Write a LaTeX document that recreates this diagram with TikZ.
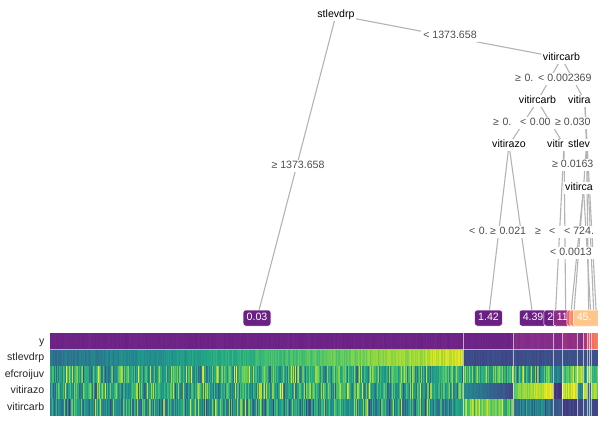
\documentclass[tikz,border=0pt]{standalone}
\usepackage{fontspec}
\setmainfont{Liberation Sans}
\usetikzlibrary{backgrounds}
\newcommand\labfont{\fontsize{10.6}{12}\selectfont}
\definecolor{vir0}{HTML}{440154}
\definecolor{vir1}{HTML}{482475}
\definecolor{vir2}{HTML}{414487}
\definecolor{vir3}{HTML}{355F8D}
\definecolor{vir4}{HTML}{2A788E}
\definecolor{vir5}{HTML}{21918C}
\definecolor{vir6}{HTML}{22A884}
\definecolor{vir7}{HTML}{44BF70}
\definecolor{vir8}{HTML}{7AD151}
\definecolor{vir9}{HTML}{BDDF26}
\definecolor{vir10}{HTML}{FDE725}
\definecolor{ya1}{HTML}{6B2184}
\definecolor{ya2}{HTML}{712689}
\definecolor{yb1}{HTML}{7E2986}
\definecolor{yb2}{HTML}{8A318C}
\definecolor{yc1}{HTML}{8C2C84}
\definecolor{yc2}{HTML}{A0337F}
\definecolor{yd1}{HTML}{A0327F}
\definecolor{yd2}{HTML}{B8397A}
\definecolor{ye1}{HTML}{D24A72}
\definecolor{ye2}{HTML}{E4566A}
\definecolor{yf1}{HTML}{F0625E}
\definecolor{yf2}{HTML}{F8805F}
\definecolor{lpur}{HTML}{6B2184}
\definecolor{lmag}{HTML}{8F2C83}
\definecolor{lred}{HTML}{EF5E5E}
\definecolor{lora}{HTML}{FA8A62}
\definecolor{lpea}{HTML}{FEC68A}
\definecolor{lgray}{HTML}{B3B3B3}
\definecolor{tgray}{HTML}{4D4D4D}
\newcommand\zzcell[3]{%
  \pgfmathsetmacro\zzf{max(0,min(10,#3))}%
  \pgfmathtruncatemacro\zzk{min(9,floor(\zzf))}%
  \pgfmathtruncatemacro\zzp{round(100*(\zzf-\zzk))}%
  \pgfmathtruncatemacro\zzkk{\zzk+1}%
  \fill[vir\zzkk!\zzp!vir\zzk] (#1,#2) rectangle ++(1.15,16.62);}
\newcommand\zzseg[8]{%
  \foreach \zzx in {#1,...,#2}{%
    \pgfmathsetmacro\zzt{(\zzx-#1)/max(1,#2-#1)}%
    \pgfmathtruncatemacro\zzq{round(100*rnd)}%
    \fill[#3!\zzq!#4] (\zzx,333) rectangle ++(1.15,16.62);
    \zzcell{\zzx}{349.62}{#5}%
    \zzcell{\zzx}{366.24}{#6}%
    \zzcell{\zzx}{382.86}{#7}%
    \zzcell{\zzx}{399.48}{#8}%
  }}
\begin{document}
\begin{tikzpicture}[x=1pt,y=-1pt,
  edge/.style={draw=lgray, line width=1.1pt},
  inode/.style={fill=white, text=black, inner xsep=1.5pt, inner ysep=1pt, font=\labfont, text height=7.6pt, text depth=2.2pt},
  elab/.style={fill=white, text=tgray, inner xsep=2pt, inner ysep=1pt, font=\labfont, text height=7.6pt, text depth=2.2pt},
  cutlab/.style={elab, anchor=west, align=left, text width=#1},
  cutnode/.style={inode, anchor=west, align=left, text width=#1},
  leafbox/.style={rounded corners=2.5pt, draw=white, line width=0.5pt, text=white, inner xsep=3.5pt, inner ysep=0pt, minimum height=16pt, font=\labfont, text height=7.6pt, text depth=2.2pt},
  cutleaf/.style={leafbox, anchor=west, align=left, text width=#1},
  rowlab/.style={anchor=east, text=black!85, font=\labfont, inner sep=0pt, text height=7.6pt, text depth=2.2pt}]
\useasboundingbox (0,0) rectangle (598,426);
\pgfmathsetseed{11}
% heatmap
\zzseg{50}{462}{ya1}{ya2}{3.7+5.6*\zzt+1.2*(rnd-0.5)}{6.2+4*(rnd+rnd-1)}{6.1+4*(rnd+rnd-1)}{5.5+4.2*(rnd+rnd-1)}
\zzseg{463}{512}{ya1}{ya2}{2.3+0.8*(rnd-0.5)}{6.3+4*(rnd+rnd-1)}{4.7-2.5*\zzt+0.6*(rnd-0.5)}{7.6+2.6*(rnd+rnd-1)}
\zzseg{513}{552}{yb1}{yb2}{2.4+0.8*(rnd-0.5)}{6+4*(rnd+rnd-1)}{7.6+2.2*\zzt+1.2*(rnd-0.5)}{4.2+2.6*(rnd+rnd-1)}
\zzseg{553}{561}{yb1}{yb2}{2.5+0.4*(rnd-0.5)}{4.2+2*(rnd+rnd-1)}{1.6+0.8*(rnd-0.5)}{2.8+0.8*(rnd-0.5)}
\zzseg{562}{576}{yc1}{yc2}{2.5+0.6*(rnd-0.5)}{7.5+2.5*(rnd+rnd-1)}{9+1.6*(rnd+rnd-1)}{2+1.2*(rnd-0.5)}
\zzseg{577}{582}{yb1}{yb2}{2.4+0.4*(rnd-0.5)}{8.5+1.5*(rnd-0.5)}{5+2*(rnd-0.5)}{2.2+0.4*(rnd-0.5)}
\zzseg{583}{586}{yd1}{yd2}{2.5}{5+3*(rnd-0.5)}{9}{2.5}
\zzseg{587}{590}{ye1}{ye2}{2.3}{8}{3}{3}
\zzseg{591}{597}{yf1}{yf2}{2.5}{6+4*(rnd-0.5)}{8+3*(rnd-0.5)}{2}
\foreach \sx in {463,513,553,562,577,583,587,589,591}
  \draw[white, opacity=0.6, line width=0.7pt] (\sx,333) -- (\sx,416.1);
\draw[white, opacity=0.6, line width=0.7pt] (50,349.62) -- (598,349.62);
% row labels
\node[rowlab] (ry) at (44.5,341.3) {y};
\node[rowlab] (rs) at (44.5,357.9) {stlevdrp};
\node[rowlab] (re) at (44.5,374.5) {efcroijuv};
\node[rowlab] (rr) at (44.5,391.2) {vitirazo};
\node[rowlab] (rc) at (44.5,407.8) {vitircarb};
% tree nodes and edge labels
\node[inode] (n1) at (336,15) {stlevdrp};
\node[elab] at (298,166) {≥ 1373.658};
\node[elab] at (450,36) {< 1373.658};
\node[inode] (n2) at (561.5,58) {vitircarb};
\node[cutlab=19pt] at (513,79) {≥~0.};
\node[elab, anchor=west] at (536,79) {< 0.002369};
\node[inode] (n3) at (537.5,101) {vitircarb};
\node[inode, anchor=west] (n4) at (566.5,101) {vitira};
\node[cutlab=23pt] at (491,123) {≥~0.};
\node[cutlab=31pt] at (518,123) {<~0.00};
\node[elab, anchor=west] at (553,123) {≥ 0.030};
\node[inode] (n5) at (509,145) {vitirazo};
\node[cutnode=17.5pt] (n6) at (545.5,145) {vitir};
\node[inode, anchor=west] (n7) at (566.5,145) {stlev};
\node[elab, anchor=west] at (550,165) {≥ 0.0163};
\node[inode, anchor=west] (n8) at (563.5,188) {vitirca};
\node[cutlab=20pt] at (467,232) {<~0.};
\node[cutlab=41pt] at (488,232) {≥~0.021};
\node[cutlab=10pt] at (533,232) {≥};
\node[cutlab=11pt] at (547,232) {<};
\node[elab, anchor=west] at (562,232) {< 724.};
\node[elab, anchor=west] at (548,253) {< 0.0013};
% leaves
\node[leafbox, fill=lpur] (L1) at (257,318) {0.03};
\node[leafbox, fill=lpur] (L2) at (488.5,318) {1.42};
\node[leafbox, fill=lpur, anchor=west] (L3) at (519,318) {4.39};
\node[cutleaf=20pt, fill=lpur] (L4) at (543.5,318) {2};
\node[cutleaf=20pt, fill=lmag] (L5) at (553,318) {11};
\node[cutleaf=20pt, fill=lred] (L6) at (566.5,318) {};
\node[cutleaf=20pt, fill=lora] (L7) at (569.5,318) {};
\node[cutleaf=20pt, fill=lpea] (L8) at (573,318) {45.};
\coordinate (c1) at (591,318);
\coordinate (c2) at (594,318);
\coordinate (c3) at (596.5,318);
\coordinate (v4) at ([xshift=18.3pt]n4.west);
\coordinate (v6) at ([xshift=18.5pt]n6.west);
\coordinate (v7) at ([xshift=20pt]n7.west);
\coordinate (v8) at ([xshift=20pt]n8.west);
\begin{scope}[on background layer]
\draw[edge] (n1.center) -- (L1.center);
\draw[edge] (n1.center) -- (n2.center);
\draw[edge] (n2.center) -- (n3.center);
\draw[edge] (n2.center) -- (v4);
\draw[edge] (n3.center) -- (n5.center);
\draw[edge] (n3.center) -- (v6);
\draw[edge] (v4) -- (v7);
\draw[edge] (v4) -- (c3);
\draw[edge] (n5.center) -- (L2.center);
\draw[edge] (n5.center) -- (L3.center);
\draw[edge] (v6) -- ([xshift=-2pt]L4.center);
\draw[edge] (v6) -- ([xshift=-1pt]L5.center);
\draw[edge] (v7) -- (v8);
\draw[edge] (v7) -- ([xshift=2pt]L8.center);
\draw[edge] (v7) -- (c2);
\draw[edge] (v8) -- ([xshift=4pt]L6.west);
\draw[edge] (v8) -- ([xshift=4pt]L7.west);
\draw[edge] (v8) -- (c1);
\end{scope}
\end{tikzpicture}
\end{document}
